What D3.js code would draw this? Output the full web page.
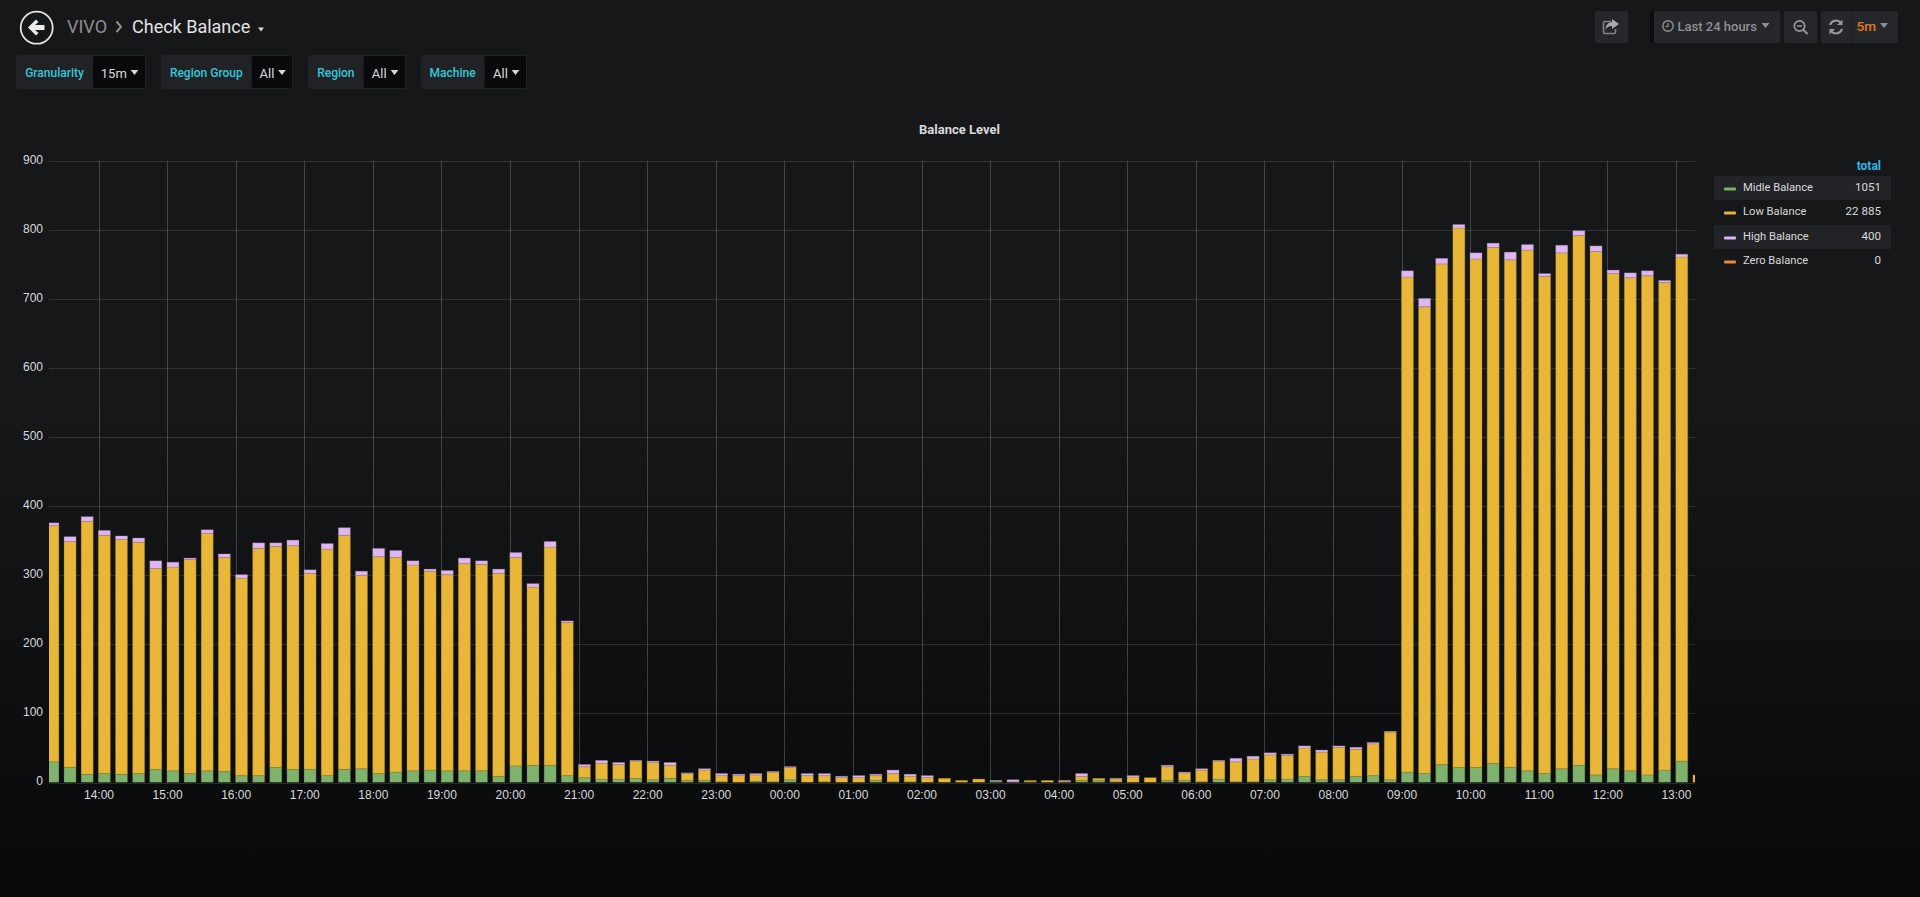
<!DOCTYPE html>
<html>
<head>
<meta charset="utf-8">
<script src="https://cdn.jsdelivr.net/npm/d3@7/dist/d3.min.js"></script>
<style>
html,body{margin:0;padding:0;width:1920px;height:897px;overflow:hidden;background:#0b0c0e;}
svg{display:block;font-family:Roboto,sans-serif;}
</style>
</head>
<body>
<div id="chart"></div>
<script>
const seriesNames = ["Midle Balance","Low Balance","High Balance","Zero Balance"];
const seriesColors = ["#7EB26D","#E8B737","#DEB6F2","#EF843C"];
const legendTotals = ["1051","22 885","400","0"];
const yTickValues = [0,100,200,300,400,500,600,700,800,900];

const midleBalance = [30,22,12,13,12,13,19,17,13,17,16,10,10,22,19,19,10,19,20,13,15,17,18,17,17,17,9,24,25,25,10,
  7,5,5,6,4,6,3,3,1,0,2,1,4,0,1,0,0,3,1,1,0,0,0,0,2,0,1,0,0,3,3,1,0,0,3,3,1,5,1,1,4,5,9,4,4,9,10,4,
  15,13,26,22,22,28,22,17,13,20,25,11,20,17,11,18,31,0];
const lowBalance = [342,327,366,345,340,335,291,295,310,344,310,286,329,320,324,284,328,339,280,314,311,298,288,284,300,299,294,302,258,316,222,
  16,23,21,25,25,19,10,15,9,10,9,14,18,10,9,7,7,7,12,8,7,6,3,5,0,1,2,3,2,6,3,4,8,7,20,11,17,26,29,33,36,34,41,40,47,39,46,69,
  717,676,725,781,736,747,735,754,720,747,767,758,717,714,723,706,730,11];
const highBalance = [4,7,7,7,5,6,11,7,2,5,5,5,8,5,8,5,8,11,6,12,10,6,3,6,8,5,6,7,5,8,2,
  3,4,3,1,2,4,1,2,3,2,2,1,1,3,3,2,3,2,5,3,3,0,0,0,1,3,0,0,1,4,0,1,2,0,2,1,2,1,5,4,3,2,3,3,2,3,2,1,
  9,12,8,5,9,6,11,8,4,11,7,8,5,7,7,3,4,0];
const zeroBalance = midleBalance.map(() => 0);
const firstBucket = Date.UTC(2019,0,1,13,15);
const bucketMinutes = 15;

const W=1920,H=897;
const svg=d3.select("#chart").append("svg").attr("width",W).attr("height",H);
const defs=svg.append("defs");
const grad=defs.append("linearGradient").attr("id","bg").attr("x1",0).attr("x2",0).attr("y1",0).attr("y2",1);
grad.append("stop").attr("offset","0%").attr("stop-color","#161719");
grad.append("stop").attr("offset","45%").attr("stop-color","#161719");
grad.append("stop").attr("offset","100%").attr("stop-color","#08090b");
svg.append("rect").attr("width",W).attr("height",H).attr("fill","url(#bg)");

/* ---------- chart ---------- */
const plot={l:49,r:1695,t:161,b:782.5};
const x=d3.scaleUtc().domain([Date.UTC(2019,0,1,13,16,40),Date.UTC(2019,0,2,13,16,40)]).range([plot.l,plot.r]);
const y=d3.scaleLinear().domain([0,900]).range([plot.b,plot.t]);
const barWidth=12;

defs.append("clipPath").attr("id","plotclip").append("rect")
  .attr("x",plot.l).attr("y",plot.t-2).attr("width",plot.r-plot.l).attr("height",plot.b-plot.t+2);

const rows=midleBalance.map((m,i)=>({
  t:new Date(firstBucket+i*bucketMinutes*60000),
  [seriesNames[0]]:m,[seriesNames[1]]:lowBalance[i],[seriesNames[2]]:highBalance[i],[seriesNames[3]]:zeroBalance[i]
}));
const stack=d3.stack().keys(seriesNames)(rows);

const yAxis=d3.axisLeft(y).tickValues(yTickValues).tickSize(plot.r-plot.l).tickPadding(6).tickFormat(d3.format("d"));
const gy=svg.append("g").attr("transform",`translate(${plot.r},0)`).call(yAxis);
gy.select(".domain").remove();
gy.selectAll("line").attr("stroke","#ffffff").attr("stroke-opacity",0.12).attr("shape-rendering","crispEdges");
gy.selectAll("text").attr("fill","#d8d9da").attr("font-size",12).attr("dy","0.32em").attr("y",-1.5);

const xAxis=d3.axisBottom(x).ticks(d3.utcHour.every(1)).tickFormat(d3.utcFormat("%H:%M")).tickSize(plot.t-plot.b).tickPadding(0);
const gx=svg.append("g").attr("transform",`translate(0,${plot.b})`).call(xAxis);
gx.select(".domain").remove();
gx.selectAll("line").attr("stroke","#ffffff").attr("stroke-opacity",0.2).attr("shape-rendering","crispEdges");
gx.selectAll("text").attr("fill","#d8d9da").attr("font-size",12).attr("dy",0).attr("y",16.5);

const barsG=svg.append("g").attr("clip-path","url(#plotclip)");
stack.forEach((s,k)=>{
  barsG.append("g").selectAll("rect").data(s.filter(d=>d[1]>d[0])).join("rect")
    .attr("x",d=>x(d.data.t)-0.2)
    .attr("width",barWidth)
    .attr("y",d=>y(d[1]))
    .attr("height",d=>y(d[0])-y(d[1]))
    .attr("fill",seriesColors[k])
    .attr("stroke",d3.color(seriesColors[k]).darker(1.2).formatHex())
    .attr("stroke-opacity",0.3)
    .attr("stroke-width",1);
});

svg.append("text").attr("x",959.5).attr("y",134).attr("text-anchor","middle")
  .attr("fill","#d8d9da").attr("font-size",13).attr("font-weight",700).text("Balance Level");

/* ---------- legend ---------- */
const lg=svg.append("g");
lg.append("text").attr("x",1881).attr("y",169.5).attr("text-anchor","end").attr("fill","#33b5e5")
  .attr("font-size",12).attr("font-weight",700).text("total");
const rowY=[188,212,237,261];
seriesNames.forEach((n,i)=>{
  if(i%2===0) lg.append("rect").attr("x",1714).attr("y",rowY[i]-12).attr("width",177).attr("height",24).attr("fill","#222326");
  lg.append("rect").attr("x",1724).attr("y",rowY[i]-0.5).attr("width",12).attr("height",3).attr("rx",1).attr("fill",seriesColors[i]);
  lg.append("text").attr("x",1743).attr("y",rowY[i]+3).attr("fill","#d8d9da").attr("font-size",11.2).text(n);
  lg.append("text").attr("x",1881).attr("y",rowY[i]+3).attr("text-anchor","end").attr("fill","#d8d9da").attr("font-size",11.6).text(legendTotals[i]);
});

/* ---------- dashboard header ---------- */
const hd=svg.append("g");
hd.append("circle").attr("cx",36.7).attr("cy",27.7).attr("r",16).attr("fill","none").attr("stroke","#e3e3e3").attr("stroke-width",1.8);
hd.append("path").attr("d","M28 27.5 L36 19.5 L38.5 22 L35 25 L44.5 25 L44.5 30 L35 30 L38.5 33 L36 35.5 Z").attr("fill","#ececec");
hd.append("text").attr("x",67).attr("y",33).attr("fill","#8e8e8e").attr("font-size",18).text("VIVO");
hd.append("path").attr("d","M116.5 21.5 L121 26.8 L116.5 32").attr("fill","none").attr("stroke","#8e8e8e").attr("stroke-width",2);
hd.append("text").attr("x",132).attr("y",33).attr("fill","#e3e3e3").attr("font-size",18).text("Check Balance");
const caret=(cx,cy,w,c)=>hd.append("path").attr("d",`M${cx-w} ${cy-w*0.65} L${cx+w} ${cy-w*0.65} L${cx} ${cy+w*0.65} Z`).attr("fill",c);
caret(261,29.5,3,"#d8d9da");

const vars=[
  {label:"Granularity",val:"15m",x0:16,x1:93,x2:146,tx:100.8,cx:134.5},
  {label:"Region Group",val:"All",x0:160.8,x1:251.8,x2:293,tx:259.6,cx:282},
  {label:"Region",val:"All",x0:308,x1:363.7,x2:406,tx:371.8,cx:394.5},
  {label:"Machine",val:"All",x0:420.8,x1:484.5,x2:527,tx:493,cx:515.5}
];
vars.forEach(v=>{
  hd.append("rect").attr("x",v.x0).attr("y",55).attr("width",v.x2-v.x0).attr("height",34).attr("rx",3).attr("fill","#212226");
  hd.append("rect").attr("x",v.x1).attr("y",56).attr("width",v.x2-v.x1-1).attr("height",32).attr("rx",2).attr("fill","#09090b");
  hd.append("text").attr("x",(v.x0+v.x1)/2).attr("y",77).attr("text-anchor","middle").attr("fill","#33c7da").attr("font-size",12).attr("font-weight",500).text(v.label);
  hd.append("text").attr("x",v.tx).attr("y",78).attr("fill","#d8d9da").attr("font-size",13).text(v.val);
  caret(v.cx,72.5,3.8,"#d8d9da");
});

const btn=(x0,x1)=>hd.append("rect").attr("x",x0).attr("y",11).attr("width",x1-x0).attr("height",32).attr("rx",2.5).attr("fill","#26272a");
btn(1595,1628);btn(1654,1780);btn(1784,1817);btn(1821,1898);
hd.append("rect").attr("x",1650).attr("y",11).attr("width",4).attr("height",32).attr("fill","#0c0d0f");
hd.append("line").attr("x1",1851.5).attr("x2",1851.5).attr("y1",11).attr("y2",43).attr("stroke","#1c1d20");
// share icon
hd.append("path").attr("d","M1611 21.5 h-6 a1.5 1.5 0 0 0 -1.5 1.5 v9 a1.5 1.5 0 0 0 1.5 1.5 h9 a1.5 1.5 0 0 0 1.5 -1.5 v-3").attr("fill","none").attr("stroke","#7f8386").attr("stroke-width",1.6);
hd.append("path").attr("d","M1612 19 L1619 24 L1612 29 L1612 26 Q1606.5 26 1605.5 30.5 Q1605.5 22.5 1612 22 Z").attr("fill","#a8aaad");
// clock
hd.append("circle").attr("cx",1668).attr("cy",26).attr("r",5.2).attr("fill","none").attr("stroke","#8f9194").attr("stroke-width",1.4);
hd.append("path").attr("d","M1668 23 V26.5 H1665.5").attr("fill","none").attr("stroke","#8f9194").attr("stroke-width",1.2);
hd.append("text").attr("x",1677.5).attr("y",31).attr("fill","#8f9194").attr("font-size",13).attr("font-weight",500).text("Last 24 hours");
caret(1765.5,25.5,4,"#8f9194");
// zoom out
hd.append("circle").attr("cx",1799.5).attr("cy",26).attr("r",5.2).attr("fill","none").attr("stroke","#979a9d").attr("stroke-width",1.7);
hd.append("path").attr("d","M1797 26 H1802").attr("stroke","#979a9d").attr("stroke-width",1.5);
hd.append("path").attr("d","M1803.5 30 L1807.5 34").attr("stroke","#979a9d").attr("stroke-width",2);
// refresh
hd.append("path").attr("d","M1830 25 A6.2 6.2 0 0 1 1841 23.2 M1842 29 A6.2 6.2 0 0 1 1831 30.8").attr("fill","none").attr("stroke","#979a9d").attr("stroke-width",2);
hd.append("path").attr("d","M1842.5 19.5 V25 H1837 Z M1829.5 34.5 V29 H1835 Z").attr("fill","#979a9d");
hd.append("text").attr("x",1856.5).attr("y",31).attr("fill","#eb7b18").attr("font-size",13.5).attr("font-weight",500).text("5m");
caret(1884,25.5,4,"#8f9194");
</script>
</body>
</html>
